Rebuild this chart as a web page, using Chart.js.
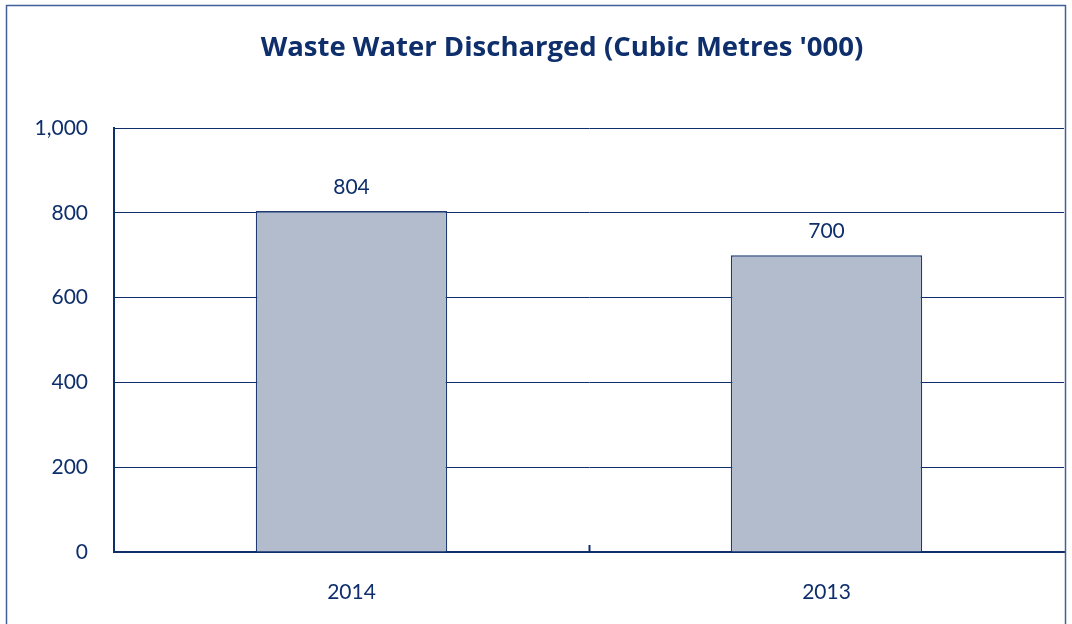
<!DOCTYPE html>
<html>
<head>
<meta charset="utf-8">
<script src="https://cdn.jsdelivr.net/npm/chart.js@4"></script>
<style>
    body { margin: 0; background: #fff; }
    #wrap { width: 1072px; height: 624px; }
</style>
</head>
<body>
<div id="wrap"><canvas id="grafik" width="1072" height="624"></canvas></div>
<script>
const chartTitle = "Waste Water Discharged (Cubic Metres '000)";
const years = ["2014", "2013"];
const discharged = [804, 700];
const yTicks = [0, 200, 400, 600, 800, 1000];

const navy = "#0e2f6b";

// outer frame, title, data labels and the small divider tick on the x axis
const extras = {
    id: "extras",
    afterDraw(chart) {
        const c = chart.ctx;
        const x = chart.scales.x;
        const area = chart.chartArea;
        c.save();
        c.strokeStyle = "#40609a";
        c.lineWidth = 1.5;
        c.strokeRect(6.5, 5.5, 1059, 640);

        c.fillStyle = navy;
        c.font = "bold 27.5px 'Open Sans'";
        c.textAlign = "center";
        c.textBaseline = "middle";
        c.fillText(chartTitle, 562, 48);

        c.strokeStyle = navy;
        c.lineWidth = 2;
        const mid = (x.getPixelForValue(0) + x.getPixelForValue(1)) / 2;
        c.beginPath();
        c.moveTo(Math.round(mid) + 0.5, area.bottom);
        c.lineTo(Math.round(mid) + 0.5, area.bottom - 7);
        c.stroke();

        c.font = "21px Lato";
        chart.getDatasetMeta(0).data.forEach((bar, i) => {
            c.fillText(discharged[i], bar.x, bar.y - 24);
        });
        c.restore();
    }
};

new Chart(document.getElementById("grafik"), {
    type: "bar",
    data: {
        labels: years,
        datasets: [{
            data: discharged,
            backgroundColor: "#b3bccd",
            borderColor: "#1f3c72",
            borderWidth: 1.5,
            categoryPercentage: 1,
            barPercentage: 0.403
        }]
    },
    options: {
        responsive: false,
        animation: false,
        layout: { padding: { left: 0, right: 8, top: 128, bottom: 0 } },
        plugins: {
            legend: { display: false },
            tooltip: { enabled: false },
            title: { display: false }
        },
        scales: {
            y: {
                min: 0,
                max: 1000,
                afterBuildTicks: s => { s.ticks = yTicks.map(v => ({ value: v })); },
                afterFit: s => { s.width = 114; },
                ticks: {
                    color: navy,
                    padding: 26,
                    font: { family: "Lato", size: 21 },
                    callback: v => v.toLocaleString("en-US")
                },
                grid: { color: navy, lineWidth: 1, drawTicks: false },
                border: { color: navy, width: 2 }
            },
            x: {
                afterFit: s => { s.height = 72; },
                ticks: {
                    color: navy,
                    padding: 28,
                    font: { family: "Lato", size: 21 }
                },
                grid: { display: false, drawTicks: false },
                border: { color: navy, width: 2 }
            }
        }
    },
    plugins: [extras]
});
</script>
</body>
</html>
